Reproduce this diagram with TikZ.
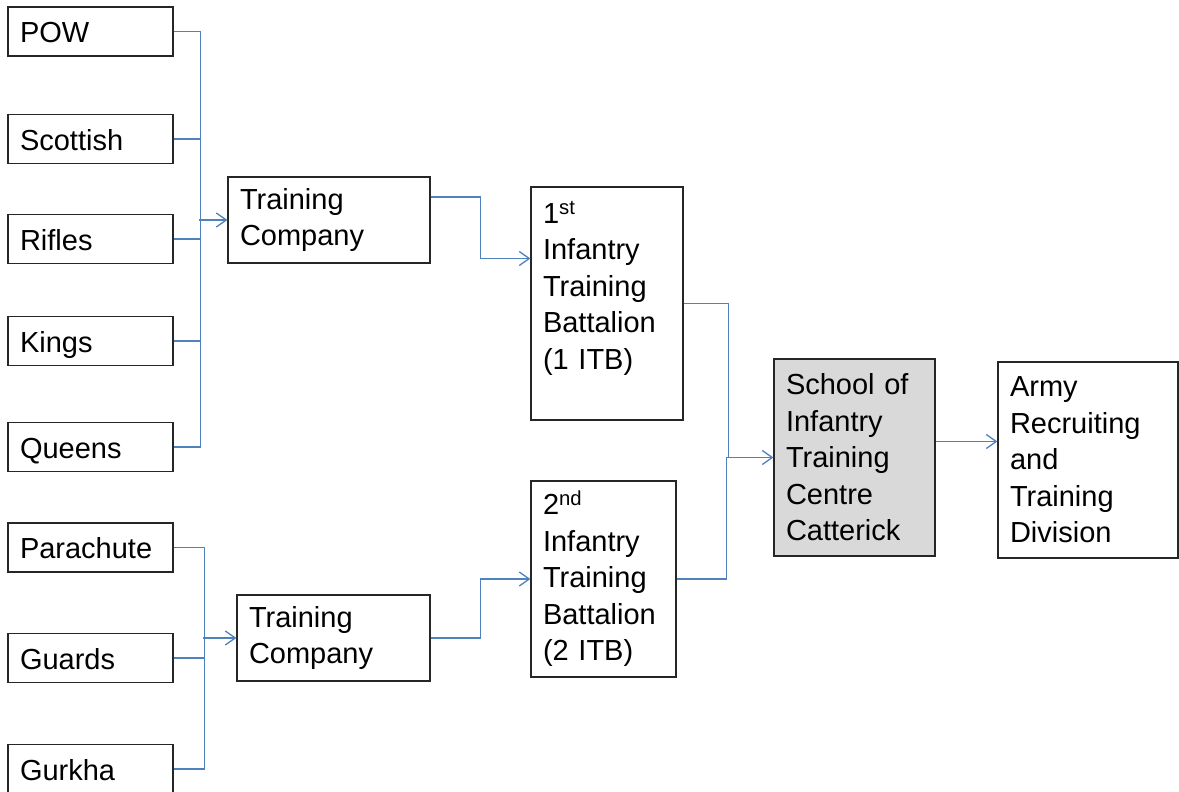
\documentclass[tikz,border=0pt]{standalone}
\usepackage{fontspec}
\setmainfont{Liberation Sans}
\usetikzlibrary{arrows.meta}
\definecolor{linkblue}{RGB}{79,129,189}

\begin{document}
\begin{tikzpicture}
[x=1pt,y=-1pt,
 every node/.style={draw=black!85,line width=1.2pt,align=left,inner xsep=12pt,inner ysep=0pt,font=\fontsize{29}{36.5}\selectfont},
 unit/.style={text width=141pt,minimum height=49pt,text height=23pt,text depth=1pt},
 link/.style={draw=linkblue,line width=1.3pt},
 feed/.style={link,-{Straight Barb[length=10pt,width=14pt]}}]
\useasboundingbox (0,0) rectangle (1179,792);
% regiments
\node[unit] (pow) at (90.5,31.5) {POW};
\node[unit] (scottish) at (90.5,139) {Scottish};
\node[unit] (rifles) at (90.5,239) {Rifles};
\node[unit] (kings) at (90.5,341) {Kings};
\node[unit] (queens) at (90.5,447) {Queens};
\node[unit] (para) at (90.5,547.5) {Parachute};
\node[unit] (guards) at (90.5,658) {Guards};
\node[unit] (gurkha) at (90.5,769) {Gurkha};
% companies and battalions
\node[text width=178pt,minimum height=86pt] (tc1) at (329,220) {Training\\Company};
\node[text width=169pt,minimum height=86pt] (tc2) at (333.5,638) {Training\\Company};
\node[text width=128pt,minimum height=233pt] (itb1) at (607,303.5)
  {\parbox[c][205pt][t]{128pt}{1\textsuperscript{st}\\Infantry\\Training\\Battalion\\(1 ITB)}};
\node[text width=121pt,minimum height=196pt] (itb2) at (603.5,579)
  {2\textsuperscript{nd}\\Infantry\\Training\\Battalion\\(2 ITB)};
\node[fill=black!15,text width=137pt,minimum height=197pt] (school) at (854.5,457.5)
  {School of\\Infantry\\Training\\Centre\\Catterick};
\node[text width=156pt,minimum height=196pt] (army) at (1088,460)
  {Army\\Recruiting\\and\\Training\\Division};
% connectors
\draw[link] (pow.east) -- ++(27,0) |- (queens.east);
\foreach \n in {scottish,rifles,kings}
\draw[link] (\n.east) -- ++(27,0);
\draw[feed] ([xshift=-28pt]tc1.west) -- (tc1.west);
\draw[link] (para.east) -- ++(31,0) |- (gurkha.east);
\draw[link] (guards.east) -- ++(31,0);
\draw[feed] ([xshift=-33pt]tc2.west) -- (tc2.west);
\draw[feed] ([yshift=23pt]tc1.east) -- ++(50,0) |- ([yshift=45pt]itb1.west);
\draw[feed] (tc2.east) -- ++(50,0) |- (itb2.west);
\draw[feed] (itb1.east) -- ++(45,0) |- (school.west);
\draw[link] (itb2.east) -- ++(50,0) |- (school.west);
\draw[feed] ([yshift=16pt]school.east) -- ([yshift=16pt]school.east -| army.west);
\end{tikzpicture}
\end{document}
